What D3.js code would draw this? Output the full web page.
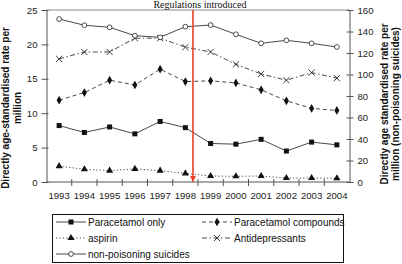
<!DOCTYPE html>
<html>
<head>
<meta charset="utf-8">
<script src="https://cdn.jsdelivr.net/npm/d3@7"></script>
<style>
  body { margin: 0; background: #fff; }
  svg { display: block; font-family: "Liberation Sans", Arial, sans-serif; }
  .tick text { font-size: 9.6px; fill: #222; }
  .axis path, .axis line { stroke: #555; stroke-width: 1; }
  .axis-title { font-size: 10px; font-weight: bold; fill: #111; }
  .legend text { font-size: 10px; fill: #111; }
</style>
</head>
<body>
<script>
// Data
let years = [1993, 1994, 1995, 1996, 1997, 1998, 1999, 2000, 2001, 2002, 2003, 2004];
let paracetamolOnly = [8.2, 7.2, 8.0, 7.0, 8.8, 7.9, 5.6, 5.5, 6.2, 4.5, 5.8, 5.4];
let paracetamolCompounds = [11.9, 13.0, 14.8, 14.1, 16.4, 14.6, 14.7, 14.4, 13.4, 11.8, 10.7, 10.4];
let aspirin = [2.3, 1.85, 1.65, 1.9, 1.65, 1.25, 0.87, 0.83, 0.87, 0.58, 0.58, 0.54];
let antidepressants = [17.9, 18.9, 18.9, 20.9, 20.9, 19.6, 18.9, 17.1, 15.7, 14.8, 15.9, 15.1];
let nonPoisoning = [151.6, 145.8, 143.9, 136.1, 134.6, 144.5, 146.0, 137.4, 129.0, 131.8, 129.0, 125.6];
let leftTicks = [0, 5, 10, 15, 20, 25];
let rightTicks = [0, 20, 40, 60, 80, 100, 120, 140, 160];
let regulationYear = 1998.3;

let margin = {top: 10, right: 52.5, bottom: 82, left: 46.5};
let width = 402, height = 264;
let plotW = width - margin.left - margin.right;
let plotH = height - margin.top - margin.bottom;

let svg = d3.select('body').append('svg')
    .attr('width', width)
    .attr('height', height);

let xBand = d3.scaleBand()
    .domain(years)
    .range([margin.left, margin.left + plotW]);
let xScale = d => xBand(d) + xBand.bandwidth() / 2;

let yLeft = d3.scaleLinear().domain([0, 25]).range([margin.top + plotH, margin.top]);
let yRight = d3.scaleLinear().domain([0, 160]).range([margin.top + plotH, margin.top]);

// Top frame line
svg.append('line')
    .attr('x1', margin.left).attr('x2', margin.left + plotW)
    .attr('y1', margin.top).attr('y2', margin.top)
    .style('stroke', '#888').style('stroke-width', 1);

// X axis, ticks on the band boundaries
let xAxisG = svg.append('g')
    .classed('axis', true)
    .attr('transform', 'translate(0,' + (margin.top + plotH) + ')');
xAxisG.append('line')
    .attr('x1', margin.left).attr('x2', margin.left + plotW)
    .attr('y1', 0).attr('y2', 0);
xAxisG.selectAll('.xtick')
    .data(years.slice(1))
    .enter().append('line')
    .classed('xtick', true)
    .attr('x1', d => xBand(d)).attr('x2', d => xBand(d))
    .attr('y1', -3).attr('y2', 4);
xAxisG.selectAll('.tick')
    .data(years)
    .enter().append('g')
    .classed('tick', true)
    .append('text')
    .attr('x', d => xScale(d))
    .attr('y', 17)
    .attr('text-anchor', 'middle')
    .text(d => d);

// Left axis
let leftAxis = d3.axisLeft(yLeft).tickValues(leftTicks).tickSizeInner(5).tickSizeOuter(0).tickPadding(4);
let lg = svg.append('g')
    .classed('axis', true)
    .attr('transform', 'translate(' + margin.left + ',0)')
    .call(leftAxis);
lg.selectAll('.tick line').attr('x2', -5).attr('x1', 2);

// Right axis
let rightAxis = d3.axisRight(yRight).tickValues(rightTicks).tickSizeInner(4).tickSizeOuter(0).tickPadding(4);
let rg = svg.append('g')
    .classed('axis', true)
    .attr('transform', 'translate(' + (margin.left + plotW) + ',0)')
    .call(rightAxis);
rg.selectAll('.tick line').attr('x1', -3);

// Axis titles
let leftTitle = svg.append('text')
    .classed('axis-title', true)
    .attr('transform', 'translate(0,' + (margin.top + plotH / 2 + 12) + ') rotate(-90)')
    .attr('text-anchor', 'middle');
leftTitle.append('tspan').attr('x', 0).attr('y', 9).text('Directly age-standardised rate per');
leftTitle.append('tspan').attr('x', 0).attr('y', 21).text('million');

let rightTitle = svg.append('text')
    .classed('axis-title', true)
    .attr('transform', 'translate(' + (width - 24) + ',' + (margin.top + plotH / 2 + 8) + ') rotate(-90)')
    .attr('text-anchor', 'middle');
rightTitle.append('tspan').attr('x', 0).attr('y', 10).text('Directly age standardised rate per');
rightTitle.append('tspan').attr('x', 0).attr('y', 21).text('million (non-poisoning suicides)');

// Series definitions
let series = [
    {name: 'Paracetamol only', values: paracetamolOnly, y: yLeft, dash: null, symbol: 'square'},
    {name: 'Paracetamol compounds', values: paracetamolCompounds, y: yLeft, dash: '4,3', symbol: 'diamond'},
    {name: 'aspirin', values: aspirin, y: yLeft, dash: '1.2,2.2', symbol: 'triangle'},
    {name: 'Antidepressants', values: antidepressants, y: yLeft, dash: '5,2.5,1.5,2.5', symbol: 'cross'},
    {name: 'non-poisoning suicides', values: nonPoisoning, y: yRight, dash: null, symbol: 'circle'}
];

function drawMarker(g, symbol, cx, cy) {
    if (symbol === 'square') {
        g.append('rect').attr('x', cx - 2.5).attr('y', cy - 2.5).attr('width', 5).attr('height', 5)
            .style('fill', '#111');
    } else if (symbol === 'diamond') {
        g.append('path').attr('d', d3.symbol(d3.symbolDiamond, 22)())
            .attr('transform', 'translate(' + cx + ',' + cy + ')')
            .style('fill', '#111');
    } else if (symbol === 'triangle') {
        g.append('path').attr('d', d3.symbol(d3.symbolTriangle, 22)())
            .attr('transform', 'translate(' + cx + ',' + cy + ')')
            .style('fill', '#111');
    } else if (symbol === 'cross') {
        g.append('path').attr('d', d3.symbol(d3.symbolX, 26)())
            .attr('transform', 'translate(' + cx + ',' + cy + ')')
            .style('fill', 'none').style('stroke', '#222').style('stroke-width', 0.9);
    } else {
        g.append('circle').attr('cx', cx).attr('cy', cy).attr('r', 2.4)
            .style('fill', '#fff').style('stroke', '#222').style('stroke-width', 0.8);
    }
}

// Lines and markers
series.forEach(s => {
    let line = d3.line()
        .x((d, i) => xScale(years[i]))
        .y(d => s.y(d));
    svg.append('path')
        .datum(s.values)
        .attr('d', line)
        .style('fill', 'none')
        .style('stroke', '#333')
        .style('stroke-width', 0.9)
        .style('stroke-dasharray', s.dash);
    let mg = svg.append('g');
    s.values.forEach((v, i) => drawMarker(mg, s.symbol, xScale(years[i]), s.y(v)));
});

// Regulation arrow
let step = xBand.step();
let regX = xScale(1998) + (regulationYear - 1998) * step;
svg.append('defs').append('marker')
    .attr('id', 'arrow')
    .attr('viewBox', '0 0 10 10')
    .attr('refX', 10).attr('refY', 5)
    .attr('markerWidth', 4).attr('markerHeight', 4)
    .attr('orient', 'auto')
    .append('path').attr('d', 'M0,0 L10,5 L0,10 z')
    .style('fill', '#e8402a');
svg.append('line')
    .attr('x1', regX).attr('x2', regX)
    .attr('y1', margin.top).attr('y2', yLeft(0))
    .style('stroke', '#e8402a').style('stroke-width', 1.6)
    .attr('marker-end', 'url(#arrow)');
svg.append('text')
    .attr('x', regX + 7)
    .attr('y', 8)
    .attr('text-anchor', 'middle')
    .style('font-family', '"Liberation Serif", "Times New Roman", serif')
    .style('font-size', '10px')
    .style('fill', '#111')
    .text('Regulations introduced');

// Legend
let legend = svg.append('g').classed('legend', true);
legend.append('rect')
    .attr('x', 52.5).attr('y', 214.5)
    .attr('width', 291).attr('height', 48)
    .style('fill', '#fff').style('stroke', '#111').style('stroke-width', 1);
let legendPos = [
    {col: 0, row: 0}, {col: 1, row: 0}, {col: 0, row: 1}, {col: 1, row: 1}, {col: 0, row: 2}
];
series.forEach((s, i) => {
    let p = legendPos[i];
    let x0 = p.col === 0 ? 56 : 202;
    let yy = 222 + p.row * 16;
    let g = legend.append('g');
    g.append('line')
        .attr('x1', x0).attr('x2', x0 + 30)
        .attr('y1', yy).attr('y2', yy)
        .style('stroke', '#333').style('stroke-width', 0.9)
        .style('stroke-dasharray', s.dash);
    drawMarker(g, s.symbol, x0 + 15, yy);
    g.append('text')
        .attr('x', x0 + 32)
        .attr('y', yy + 3.5)
        .text(s.name);
});
</script>
</body>
</html>
